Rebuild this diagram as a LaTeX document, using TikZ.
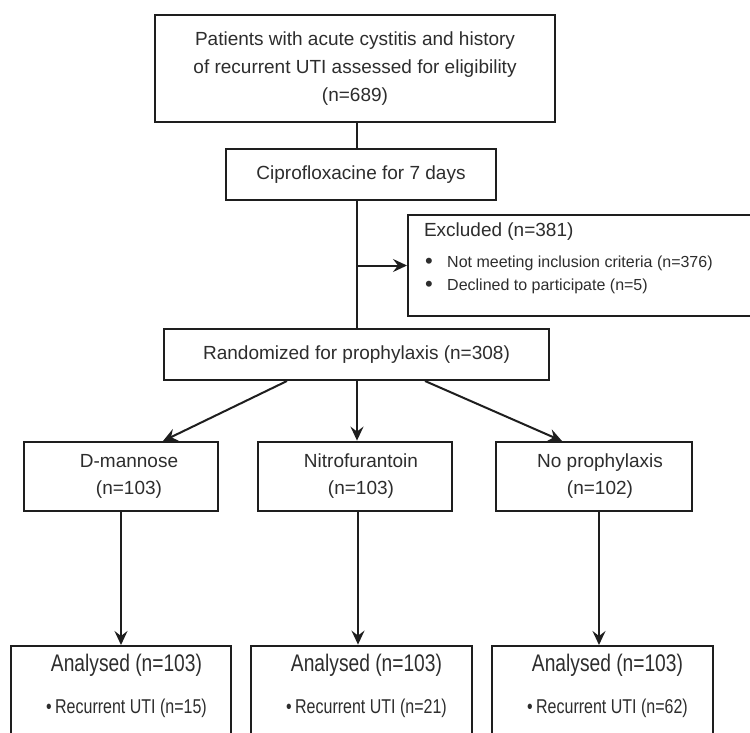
\documentclass[tikz,border=0pt]{standalone}
\usepackage{fontspec}
\setmainfont{Liberation Sans}
\newfontfamily\narrowfont[FakeStretch=0.8]{Liberation Sans}
\usetikzlibrary{arrows.meta, positioning}
\definecolor{flowline}{RGB}{30,30,30}
\definecolor{flowink}{RGB}{45,45,45}
\newcommand{\bigdot}{\raisebox{-1.5pt}{\fontsize{22}{20}\selectfont\textbullet}}
\tikzset{
  box/.style={
    draw=flowline,
    line width=2pt,
    fill=white,
    inner sep=0pt,
    align=center,
    text=flowink,
    font=\fontsize{19}{28}\selectfont
  },
  thickbox/.style={box, line width=2.8pt},
  boxtext/.style={
    align=center,
    inner sep=0pt,
    text=flowink,
    font=\fontsize{19}{27}\selectfont
  },
  itemtext/.style={
    anchor=west,
    inner sep=0pt,
    text=flowink,
    font=\fontsize{16}{20}\selectfont
  },
  countbig/.style={
    inner sep=0pt,
    text=flowink,
    font=\narrowfont\fontsize{24}{24}\selectfont
  },
  countsmall/.style={
    inner sep=0pt,
    text=flowink,
    font=\narrowfont\fontsize{20}{20}\selectfont
  },
  link/.style={line width=2pt, draw=flowline},
  arrow/.style={-{Stealth[length=14pt, width=13pt, inset=5pt]}, line width=2pt, draw=flowline}
}

\begin{document}
\begin{tikzpicture}[x=1pt,y=-1pt]
    \useasboundingbox (0,0) rectangle (750,733);
    \clip (0,0) rectangle (750,733);
    \coordinate (spine) at (357,0);

    % screening
    \node[box, minimum width=400pt, minimum height=107pt] (top) at (355,68.5)
      {Patients with acute cystitis and history\\of recurrent UTI assessed for eligibility\\(n=689)};
    \node[box, minimum width=270pt, minimum height=51pt] (cipro) at (361,174.5) {Ciprofloxacine for 7 days};
    \node[box, minimum width=352pt, minimum height=101pt] (excl) at (584,265.5) {};
    \node[box, draw=none, fill=none, anchor=west] (exhead) at (423,232) {Excluded (n=381)};
    \node[itemtext] (exone) at (425,263) {\makebox[22pt][l]{\bigdot}Not meeting inclusion criteria (n=376)};
    \node[itemtext] (extwo) at (425,286) {\makebox[22pt][l]{\bigdot}Declined to participate (n=5)};
    \node[box, minimum width=385pt, minimum height=51pt] (rand) at (356.5,354.5) {Randomized for prophylaxis (n=308)};

    % allocation
    \node[box, minimum width=194pt, minimum height=69pt] (dman) at (121,476.5) {};
    \node[thickbox, minimum width=194pt, minimum height=69pt] (nitro) at (355,476.5) {};
    \node[box, minimum width=196pt, minimum height=69pt] (nopro) at (594,476.5) {};
    \node[boxtext] (dmantxt) at ([xshift=8pt]dman.center) {D-mannose\\(n=103)};
    \node[boxtext] (nitrotxt) at ([xshift=6pt]nitro.center) {Nitrofurantoin\\(n=103)};
    \node[boxtext] (noprotxt) at ([xshift=6pt]nopro.center) {No prophylaxis\\(n=102)};

    % analysis
    \node[box, minimum width=220pt, minimum height=114pt] (anA) at (121,703) {};
    \node[thickbox, minimum width=221pt, minimum height=114pt] (anB) at (361.5,703) {};
    \node[box, minimum width=221pt, minimum height=114pt] (anC) at (602.5,703) {};
    \node[countbig] (anAtxt) at (126.5,665) {Analysed (n=103)};
    \node[countbig] (anBtxt) at (366.5,665) {Analysed (n=103)};
    \node[countbig] (anCtxt) at (607.5,665) {Analysed (n=103)};
    \node[countsmall] (recA) at (126.5,708) {\textbullet\,Recurrent UTI (n=15)};
    \node[countsmall] (recB) at (366.5,708) {\textbullet\,Recurrent UTI (n=21)};
    \node[countsmall] (recC) at (607.5,708) {\textbullet\,Recurrent UTI (n=62)};

    \draw[link] (top.south -| spine) -- (cipro.north -| spine);
    \draw[link] (cipro.south -| spine) -- (rand.north -| spine);
    \draw[arrow] (excl.west -| spine) -- (excl.west);
    \draw[arrow] ([xshift=-69.5pt]rand.south) -- ([xshift=42pt]dman.north);
    \draw[arrow] (rand.south -| spine) -- (nitro.north -| spine);
    \draw[arrow] ([xshift=68.5pt]rand.south) -- ([xshift=-32pt]nopro.north);
    \draw[arrow] (dman.south) -- (dman.south |- anA.north);
    \draw[arrow] ([xshift=3pt]nitro.south) -- ([xshift=3pt]nitro.south |- anB.north);
    \draw[arrow] ([xshift=5pt]nopro.south) -- ([xshift=5pt]nopro.south |- anC.north);
  \end{tikzpicture}
\end{document}
